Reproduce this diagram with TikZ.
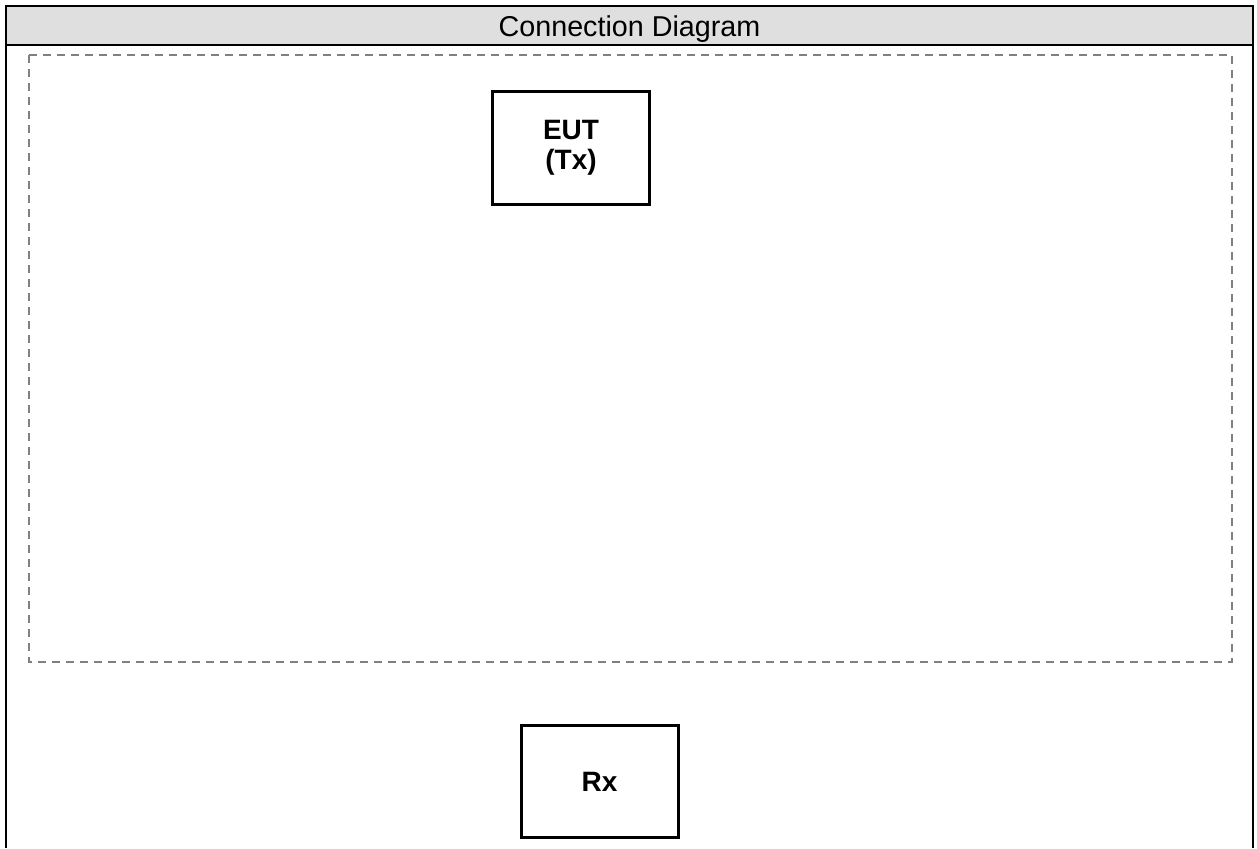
\documentclass[tikz,border=0pt]{standalone}
\usepackage{fontspec}
\setmainfont{Liberation Sans}
\definecolor{headgray}{RGB}{223,223,223}
\definecolor{zonegray}{RGB}{128,128,128}

\begin{document}
\begin{tikzpicture}[x=1pt, y=-1pt,
		header/.style={rectangle, draw, fill=headgray, line width=2pt,
		minimum width=1247pt, minimum height=39pt, inner sep=0pt,
		text height=22pt, text depth=0pt,
		font=\fontsize{28.7}{31}\selectfont},
		unitbox/.style={rectangle, draw, line width=3pt, align=center,
		minimum width=157pt, minimum height=112pt,
		font=\fontsize{28}{30}\selectfont\bfseries},
		frame/.style={line width=2pt},
		zone/.style={draw=zonegray, line width=1.2pt, dash pattern=on 8pt off 6pt}
		]
		\useasboundingbox (0,0) rectangle (1257,848);
		
		\draw[frame] (6,848) -- (6,6) -- (1253,6) -- (1253,848);
		\node[header](title) at (629.5,25.5){Connection Diagram};
		
		\draw[zone] (29,55) rectangle (1232,662);
		
		\node[unitbox](EUT) at (571,148){EUT\\(Tx)};
		\node[unitbox](Rx) at (599.5,781.5){Rx};
	\end{tikzpicture}
\end{document}
